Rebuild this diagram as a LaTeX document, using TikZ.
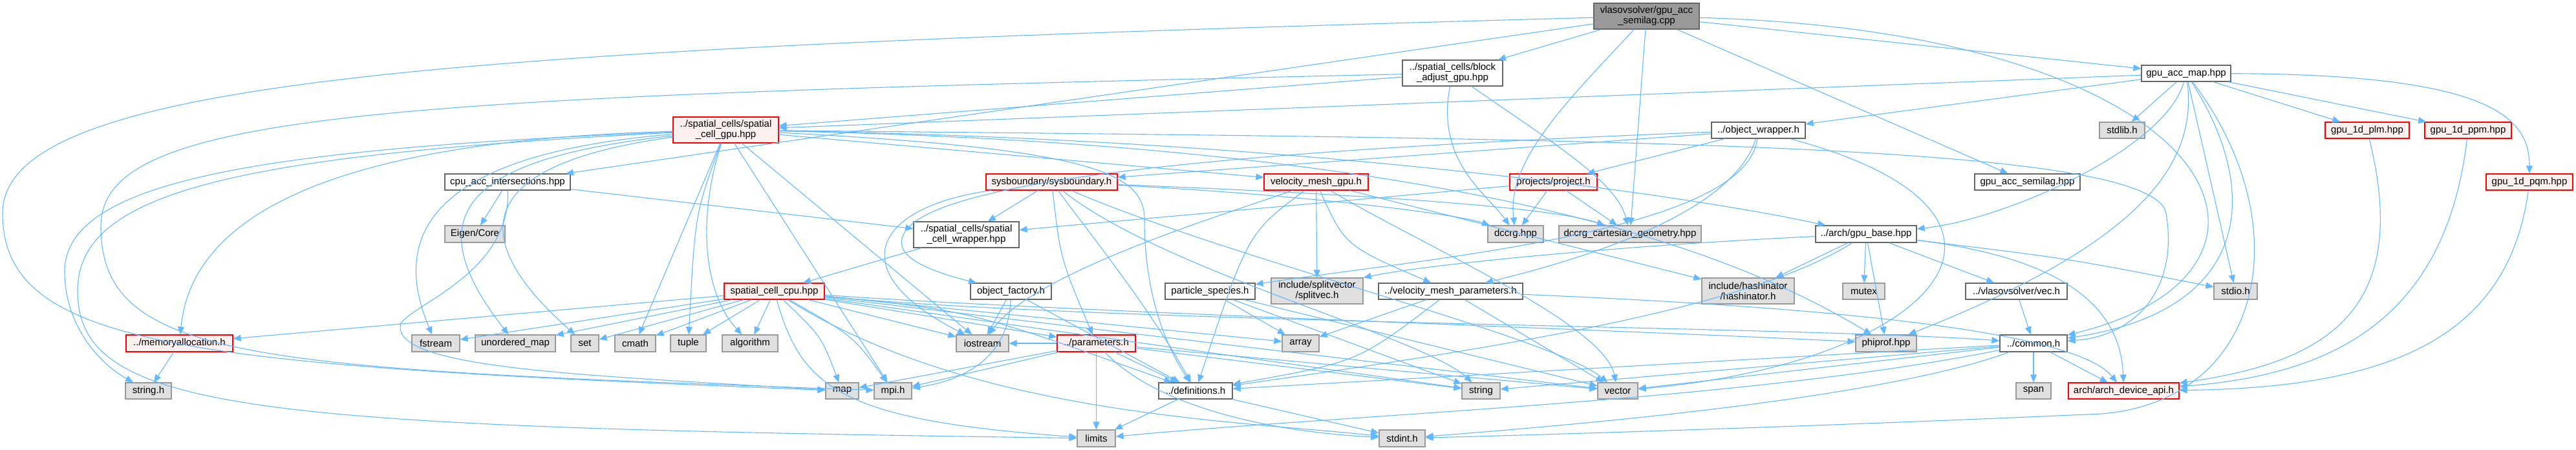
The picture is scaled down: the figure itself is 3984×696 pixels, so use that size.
\documentclass[tikz,border=0pt]{standalone}
\usepackage{fontspec}
\setmainfont{Liberation Sans}
\usetikzlibrary{arrows.meta}
\definecolor{eb}{HTML}{63B8FF}
\definecolor{gfill}{HTML}{E0E0E0}
\definecolor{gdraw}{HTML}{999999}
\definecolor{wdraw}{HTML}{666666}
\definecolor{rfill}{HTML}{FFF0F0}
\definecolor{rdraw}{HTML}{FF0000}
\definecolor{mfill}{HTML}{999999}
\newcommand{\gnode}[6]{\node[#1, minimum width=#2*0.5pt, minimum height=#3*0.5pt] (#4) at (#5) {#6};}
\begin{document}
\begin{tikzpicture}[x=0.5pt,y=-0.5pt,
  base/.style={draw, inner sep=0pt, line width=0.6pt, align=center, font=\fontsize{7.5pt}{8pt}\selectfont},
  wbox/.style={base, fill=white, draw=wdraw},
  gbox/.style={base, fill=gfill, draw=gdraw},
  rbox/.style={base, fill=rfill, draw=rdraw},
  mainbox/.style={base, fill=mfill, draw=wdraw},
  e/.style={draw=eb, line width=0.55pt, -{Triangle[length=6pt,width=5pt]}}]
\useasboundingbox (0,0) rectangle (3984,696);
\gnode{mainbox}{163}{40}{main}{2546.5,25}{vlasovsolver/gpu\_acc\\\_semilag.cpp}
\gnode{wbox}{155}{40}{block}{2246.5,113}{../spatial\_cells/block\\\_adjust\_gpu.hpp}
\gnode{rbox}{163}{40}{scgpu}{1122.5,201}{../spatial\_cells/spatial\\\_cell\_gpu.hpp}
\gnode{wbox}{194}{25}{cpuacc}{785,281.5}{cpu\_acc\_intersections.hpp}
\gnode{gbox}{93}{26}{eigen}{734.5,362}{Eigen/Core}
\gnode{rbox}{203}{25}{sysb}{1626.5,281.5}{sysboundary/sysboundary.h}
\gnode{rbox}{161}{25}{vmgpu}{2035.5,281.5}{velocity\_mesh\_gpu.h}
\gnode{rbox}{135}{25}{project}{2402.5,281.5}{projects/project.h}
\gnode{wbox}{145}{25}{objwrap}{2719.5,201.5}{../object\_wrapper.h}
\gnode{wbox}{163}{25}{semilaghpp}{3135.5,281.5}{gpu\_acc\_semilag.hpp}
\gnode{wbox}{138}{25}{accmap}{3381,113.5}{gpu\_acc\_map.hpp}
\gnode{gbox}{70}{25}{stdlib}{3282,201.5}{stdlib.h}
\gnode{rbox}{130}{25}{plm}{3661,201.5}{gpu\_1d\_plm.hpp}
\gnode{rbox}{134}{25}{ppm}{3817,201.5}{gpu\_1d\_ppm.hpp}
\gnode{rbox}{134}{25}{pqm}{3912,281.5}{gpu\_1d\_pqm.hpp}
\gnode{wbox}{163}{40}{wrapper}{1494.5,363}{../spatial\_cells/spatial\\\_cell\_wrapper.hpp}
\gnode{gbox}{86}{26}{dccrg}{2344,362}{dccrg.hpp}
\gnode{gbox}{220}{26}{dccrgcart}{2521,362}{dccrg\_cartesian\_geometry.hpp}
\gnode{wbox}{156}{26}{gpubase}{2886,362}{../arch/gpu\_base.hpp}
\gnode{rbox}{155}{25}{sccpu}{1197.5,450.5}{spatial\_cell\_cpu.hpp}
\gnode{wbox}{125}{25}{objfact}{1563.5,450.5}{object\_factory.h}
\gnode{wbox}{139}{25}{species}{1871.5,450.5}{particle\_species.h}
\gnode{gbox}{142}{40}{splitvec}{2037,450}{include/splitvector\\/splitvec.h}
\gnode{wbox}{223}{25}{vmparams}{2243.5,450.5}{../velocity\_mesh\_parameters.h}
\gnode{gbox}{143}{40}{hashinator}{2703.5,450}{include/hashinator\\/hashinator.h}
\gnode{gbox}{65}{25}{mutex}{2882.5,450.5}{mutex}
\gnode{wbox}{157}{25}{vec}{3118.5,450.5}{../vlasovsolver/vec.h}
\gnode{gbox}{67}{25}{stdio}{3457.5,450.5}{stdio.h}
\gnode{rbox}{165}{26}{memalloc}{277.5,531}{../memoryallocation.h}
\gnode{gbox}{74}{26}{fstream}{674,531}{fstream}
\gnode{gbox}{124}{26}{umap}{797,531}{unordered\_map}
\gnode{gbox}{43}{26}{set}{904.5,531}{set}
\gnode{gbox}{63}{26}{cmath}{982.5,531}{cmath}
\gnode{gbox}{55}{26}{tuple}{1064.5,531}{tuple}
\gnode{gbox}{86}{26}{algorithm}{1160,531}{algorithm}
\gnode{gbox}{81}{26}{iostream}{1519.5,531}{iostream}
\gnode{rbox}{121}{26}{params}{1695.5,531}{../parameters.h}
\gnode{gbox}{57}{26}{array}{2011.5,531}{array}
\gnode{gbox}{94}{26}{phiprof}{2917,531}{phiprof.hpp}
\gnode{wbox}{104}{26}{common}{3145,531}{../common.h}
\gnode{gbox}{71}{25}{stringh}{229.5,604.5}{string.h}
\gnode{gbox}{51}{25}{map}{1302.5,604.5}{map}
\gnode{gbox}{58}{25}{mpi}{1381,604.5}{mpi.h}
\gnode{wbox}{114}{25}{defs}{1849,604.5}{../definitions.h}
\gnode{gbox}{59}{25}{string}{2290.5,604.5}{string}
\gnode{gbox}{62}{25}{vector}{2502,604.5}{vector}
\gnode{gbox}{54}{25}{span}{3145,604.5}{span}
\gnode{rbox}{171}{25}{archapi}{3284.5,604.5}{arch/arch\_device\_api.h}
\gnode{gbox}{59}{26}{limits}{1695.5,678}{limits}
\gnode{gbox}{71}{26}{stdint}{2168.5,678}{stdint.h}
% main
\draw[e] (main) -- (block);
\draw[e] (main) -- (cpuacc);
\draw[e] (main) .. controls (2420,160) and (2330,250) .. (dccrg);
\draw[e] (main) -- (dccrgcart);
\draw[e] (main) -- (semilaghpp);
\draw[e] (main) -- (accmap);
\draw[e] (main) .. controls (3450,50) and (3600,420) .. (common);
\draw[e] (main) .. controls (700,75) and (4,120) .. (4,330) .. controls (4,540) and (300,565) .. (map);
% block
\draw[e] (block) -- (scgpu);
\draw[e] (block) .. controls (2220,250) and (2300,300) .. (dccrg);
\draw[e] (block) .. controls (2400,220) and (2500,280) .. (dccrgcart);
\draw[e] (block) .. controls (600,150) and (156,170) .. (156,350) .. controls (156,560) and (400,570) .. (mpi);
% accmap
\draw[e] (accmap) -- (scgpu);
\draw[e] (accmap) -- (objwrap);
\draw[e] (accmap) -- (stdlib);
\draw[e] (accmap) -- (plm);
\draw[e] (accmap) -- (ppm);
\draw[e] (accmap) .. controls (3850,115) and (3912,180) .. (pqm);
\draw[e] (accmap) .. controls (3350,230) and (3100,340) .. (gpubase);
\draw[e] (accmap) -- (stdio);
\draw[e] (accmap) .. controls (3400,260) and (3300,380) .. (phiprof);
\draw[e] (accmap) .. controls (3500,300) and (3480,480) .. (common);
\draw[e] (accmap) .. controls (3560,350) and (3500,620) .. (3250,640) .. controls (2800,660) and (2400,672) .. (stdint);
% objwrap
\draw[e] (objwrap) -- (sysb);
\draw[e] (objwrap) -- (project);
\draw[e] (objwrap) .. controls (1700,240) and (1380,300) .. (1395,380) .. controls (1400,410) and (1480,430) .. (objfact);
\draw[e] (objwrap) .. controls (2700,360) and (2200,400) .. (species);
\draw[e] (objwrap) .. controls (2680,330) and (2450,400) .. (vmparams);
\draw[e] (objwrap) .. controls (3200,330) and (3000,560) .. (vector);
% sysb
\draw[e] (sysb) -- (wrapper);
\draw[e] (sysb) .. controls (1640,400) .. (params);
\draw[e] (sysb) .. controls (1700,380) and (1780,480) .. (defs);
\draw[e] (sysb) .. controls (2000,300) and (2250,330) .. (dccrg);
\draw[e] (sysb) .. controls (2100,300) and (2400,320) .. (dccrgcart);
\draw[e] (sysb) .. controls (1350,320) and (1300,420) .. (iostream);
\draw[e] (sysb) .. controls (1800,420) and (2200,520) .. (string);
\draw[e] (sysb) .. controls (1900,400) and (2400,520) .. (vector);
% vmgpu
\draw[e] (vmgpu) -- (splitvec);
\draw[e] (vmgpu) .. controls (2080,380) .. (vmparams);
\draw[e] (vmgpu) -- (hashinator);
\draw[e] (vmgpu) .. controls (2200,380) and (2480,500) .. (vector);
\draw[e] (vmgpu) .. controls (1930,360) .. (defs);
\draw[e] (vmgpu) .. controls (1900,330) and (1600,420) .. (iostream);
% project
\draw[e] (project) -- (wrapper);
\draw[e] (project) -- (dccrg);
\draw[e] (project) -- (dccrgcart);
% cpuacc
\draw[e] (cpuacc) -- (eigen);
\draw[e] (cpuacc) -- (wrapper);
\draw[e] (cpuacc) .. controls (790,420) and (640,470) .. (620,500) .. controls (600,570) and (900,580) .. (map);
% wrapper
\draw[e] (wrapper) -- (sccpu);
% sccpu
\draw[e] (sccpu) -- (memalloc);
\draw[e] (sccpu) -- (fstream);
\draw[e] (sccpu) -- (umap);
\draw[e] (sccpu) -- (set);
\draw[e] (sccpu) -- (cmath);
\draw[e] (sccpu) -- (tuple);
\draw[e] (sccpu) -- (algorithm);
\draw[e] (sccpu) .. controls (1270,520) .. (map);
\draw[e] (sccpu) .. controls (1320,520) .. (mpi);
\draw[e] (sccpu) .. controls (1240,600) and (1300,650) .. (limits);
\draw[e] (sccpu) -- (iostream);
\draw[e] (sccpu) -- (params);
\draw[e] (sccpu) .. controls (1500,480) .. (defs);
\draw[e] (sccpu) -- (array);
\draw[e] (sccpu) -- (vector);
\draw[e] (sccpu) -- (string);
\draw[e] (sccpu) .. controls (1500,640) and (1900,650) .. (stdint);
\draw[e] (sccpu) .. controls (1600,480) and (2500,510) .. (phiprof);
\draw[e] (sccpu) .. controls (1700,500) and (2800,505) .. (common);
% params
\draw[e] (params) -- (limits);
\draw[e] (params) -- (defs);
\draw[e] (params) -- (mpi);
\draw[e] (params) -- (map);
\draw[e] (params) .. controls (1800,640) and (2000,670) .. (stdint);
\draw[e] (params) -- (string);
\draw[e] (params) -- (vector);
\draw[e] (params) -- (iostream);
% objfact
\draw[e] (objfact) -- (iostream);
\draw[e] (objfact) .. controls (1560,560) and (1480,590) .. (mpi);
\draw[e] (objfact) -- (defs);
% species
\draw[e] (species) -- (array);
\draw[e] (species) -- (string);
\draw[e] (species) -- (vector);
% vmparams
\draw[e] (vmparams) -- (array);
\draw[e] (vmparams) -- (vector);
\draw[e] (vmparams) .. controls (2100,560) .. (defs);
\draw[e] (vmparams) .. controls (2700,470) and (3200,500) .. (archapi);
% gpubase
\draw[e] (gpubase) .. controls (2500,380) and (2200,410) .. (splitvec.north east);
\draw[e] (gpubase) -- (hashinator);
\draw[e] (gpubase) -- (mutex);
\draw[e] (gpubase) -- (phiprof);
\draw[e] (gpubase) -- (vec);
\draw[e] (gpubase) .. controls (3200,400) .. (stdio);
\draw[e] (gpubase) .. controls (3200,400) and (3280,480) .. (archapi);
\draw[e] (gpubase) .. controls (2700,480) and (2300,540) .. (defs);
% vec, common
\draw[e] (vec) -- (common);
\draw[e] (common) -- (span);
\draw[e] (common) -- (archapi);
\draw[e] (common) -- (defs);
\draw[e] (common) -- (vector);
\draw[e] (common) -- (string);
\draw[e] (common) .. controls (2900,620) and (2400,660) .. (stdint);
\draw[e] (common) .. controls (2700,620) and (2100,640) .. (limits);
% defs, memalloc
\draw[e] (defs) -- (limits);
\draw[e] (defs) -- (stdint);
\draw[e] (memalloc) -- (stringh);
% 1d
\draw[e] (plm) .. controls (3730,480) and (3600,560) .. (archapi);
\draw[e] (ppm) .. controls (3782,500) and (3600,580) .. (archapi);
\draw[e] (pqm) .. controls (3880,520) and (3700,600) .. (archapi);
% scgpu
\draw[e] (scgpu) .. controls (600,215) and (300,300) .. (memalloc);
\draw[e] (scgpu) .. controls (400,230) and (100,280) .. (100,420) .. controls (100,500) and (150,560) .. (stringh);
\draw[e] (scgpu) .. controls (350,240) and (120,300) .. (120,450) .. controls (120,640) and (400,660) .. (limits);
\draw[e] (scgpu) .. controls (640,240) and (610,380) .. (fstream);
\draw[e] (scgpu) .. controls (720,245) and (640,330) .. (umap);
\draw[e] (scgpu) .. controls (760,250) and (700,350) .. (set);
\draw[e] (scgpu) -- (cmath);
\draw[e] (scgpu) .. controls (1075,330) .. (tuple);
\draw[e] (scgpu) .. controls (1080,330) and (1085,450) .. (algorithm);
\draw[e] (scgpu) -- (iostream);
\draw[e] (scgpu) -- (mpi);
\draw[e] (scgpu) -- (vmgpu);
\draw[e] (scgpu) .. controls (2000,215) and (2600,300) .. (gpubase);
\draw[e] (scgpu) .. controls (2500,215) and (3330,220) .. (3350,330) .. controls (3370,450) and (3300,520) .. (common);
\draw[e] (scgpu) .. controls (2300,225) and (2700,400) .. (phiprof);
\draw[e] (scgpu) .. controls (1700,230) and (1770,270) .. (1770,340) .. controls (1770,450) and (1800,530) .. (defs);
\end{tikzpicture}
\end{document}
